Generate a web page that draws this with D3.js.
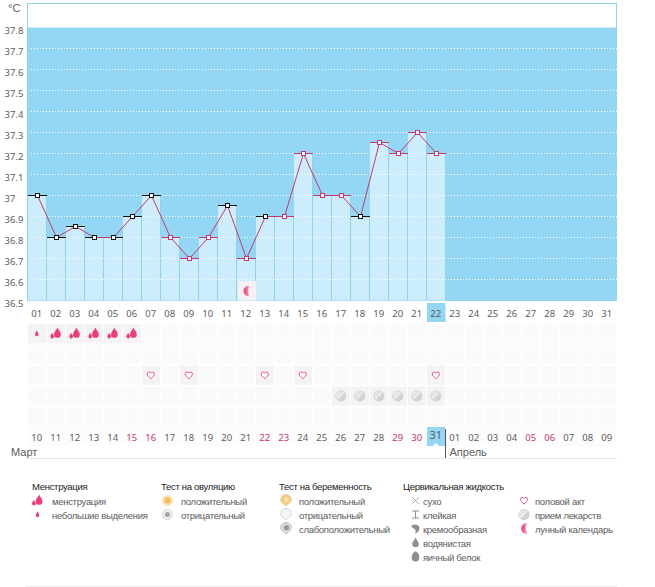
<!DOCTYPE html>
<html><head><meta charset="utf-8">
<script src="https://cdn.jsdelivr.net/npm/d3@7"></script>
<style>
html,body{margin:0;padding:0;background:#fff}
svg{display:block}
text{font-family:"Liberation Sans",Arial,sans-serif;font-size:9.5px;letter-spacing:-.3px;fill:#5c5c5c}
.ax text{font-family:"Noto Sans",sans-serif;font-size:9.5px;letter-spacing:0}
</style></head><body>
<svg id="c" width="655" height="587"></svg>
<script>
const topDays=["01","02","03","04","05","06","07","08","09","10","11","12","13","14","15","16","17","18","19","20","21","22","23","24","25","26","27","28","29","30","31"];
const bottomDays=["10","11","12","13","14","15","16","17","18","19","20","21","22","23","24","25","26","27","28","29","30","31","01","02","03","04","05","06","07","08","09"];
const bottomRed=[5,6,12,13,19,20,26,27];
const temps=[37,36.8,36.85,36.8,36.8,36.9,37,36.8,36.7,36.8,36.95,36.7,36.9,36.9,37.2,37,37,36.9,37.25,37.2,37.3,37.2];
const blackMarkers=["01","02","03","04","05","06","07","11","13","18"];
const yTicks=[37.8,37.7,37.6,37.5,37.4,37.3,37.2,37.1,37,36.9,36.8,36.7,36.6,36.5];
const gridTicks=[37.7,37.6,37.5,37.4,37.3,37.2,37.1,37,36.9,36.8,36.7,36.6];
const bleedSmall=["01"];
const bleedBig=["02","03","04","05","06"];
const hearts=["07","09","13","15","22"];
const pills=["17","18","19","20","21","22"];
const moonDays=["12"];
const todayDay="22";
const legendTitles=[["Менструация",32],["Тест на овуляцию",161],["Тест на беременность",279],["Цервикальная жидкость",403]];
const legendItems=[
 ["bleedBig","менструация",37.5,52,0],["bleedSmall","небольшие выделения",37.5,52,1],
 ["ovuPos","положительный",167.5,181,0],["ovuNeg","отрицательный",167.5,181,1],
 ["pregPos","положительный",286,299,0],["pregNeg","отрицательный",286,299,1],["pregWeak","слабоположительный",286,299,2],
 ["dry","сухо",415.5,423,0],["sticky","клейкая",415.5,423,1],["creamy","кремообразная",415.5,423,2],["watery","водянистая",415.5,423,3],["egg","яичный белок",415.5,423,4],
 ["heart","половой акт",524,535,0],["pill","прием лекарств",524,535,1],["moon","лунный календарь",524,535,2]
];

const blue="#93d7f4",light="#cdedfd",lineBlue="#8fd2ec",pink="#c9366f",hot="#ef3d78";
const svg=d3.select("#c");
const defs=svg.append("defs");
const mg=defs.append("linearGradient").attr("id","moonG");
mg.append("stop").attr("offset","0").attr("stop-color","#ee3a76");
mg.append("stop").attr("offset","0.55").attr("stop-color","#f36f9c");
mg.append("stop").attr("offset","1").attr("stop-color","#fde3ec");
const pg=defs.append("linearGradient").attr("id","pillG").attr("x1",0).attr("y1",0).attr("x2",1).attr("y2",1);
pg.append("stop").attr("offset","0").attr("stop-color","#f5f5f5");
pg.append("stop").attr("offset","1").attr("stop-color","#c4c4c4");

const x=d3.scaleBand().domain(topDays).range([27.8,616.8]).padding(0);
const xb=d3.scaleBand().domain(bottomDays.map((d,i)=>i)).range([27.8,616.8]);
const y=d3.scaleLinear().domain([36.5,37.8]).range([300.5,27.5]);
const rowY=d3.scaleBand().domain([0,1,2,3,4]).range([324,428]);
const legY=d3.scaleLinear().domain([0,4]).range([501,557]);
const snapY=v=>Math.floor(y(v))+.5;
const midX=d=>Math.floor(x(d)+x.bandwidth()/2)+.5;

// frame and blue plot
svg.append("rect").attr("x",27.5).attr("y",3.5).attr("width",589).attr("height",297).attr("fill","#fff").attr("stroke",lineBlue);
svg.append("rect").attr("x",28).attr("y",y(37.8)).attr("width",589).attr("height",y(36.5)-y(37.8)).attr("fill",blue);

// bars
const data=temps.map((t,i)=>({day:topDays[i],t,black:blackMarkers.includes(topDays[i])}));
const bx=d=>Math.round(x(d));
svg.selectAll(".bar").data(data).join("rect").attr("x",d=>bx(d.day)).attr("width",18)
 .attr("y",d=>snapY(d.t)).attr("height",d=>y(36.5)-snapY(d.t)).attr("fill",light);
svg.selectAll(".sep").data(data).join("rect").attr("x",d=>bx(d.day)+18).attr("width",1)
 .attr("y",d=>snapY(d.t)).attr("height",d=>y(36.5)-snapY(d.t)).attr("fill",lineBlue);

// grid dots
svg.selectAll(".g").data(gridTicks).join("line").attr("x1",31).attr("x2",617)
 .attr("y1",d=>snapY(d)).attr("y2",d=>snapY(d))
 .attr("stroke","#fff").attr("stroke-dasharray","1 2");

// icon glyphs (local coordinates around 0,0)
const drop="M0,-4.2C.6,-2.4 2.6,-1 2.6,1.2A2.6,2.6 0 1 1 -2.6,1.2C-2.6,-1 -.6,-2.4 0,-4.2Z";
const pregShape="M-5.4,-1A5.4,5 0 1 1 5.4,-1C5.4,2 2,3.5 0,5.5C-2,3.5 -5.4,2 -5.4,-1Z";
const glyphs={
 bleedSmall:g=>g.append("path").attr("d","M0,-3.2C.4,-1.6 1.7,-.6 1.7,1A1.7,1.7 0 1 1 -1.7,1C-1.7,-.6 -.4,-1.6 0,-3.2Z").attr("fill",hot),
 bleedBig:g=>{g.append("path").attr("d",drop).attr("transform","translate(1.6,-.6) scale(1.3)").attr("fill",hot);
   g.append("path").attr("d",drop).attr("transform","translate(-3.6,2.2) scale(.72)").attr("fill",hot);},
 heart:g=>g.append("path").attr("d","M0,3.6C-2,1.8 -3.6,.4 -3.6,-1.2A1.9,1.9 0 0 1 0,-2A1.9,1.9 0 0 1 3.6,-1.2C3.6,.4 2,1.8 0,3.6Z").attr("fill","#fff").attr("stroke",hot).attr("stroke-width",.9),
 pill:g=>{g.append("circle").attr("r",5.2).attr("fill","url(#pillG)").attr("stroke","#c9c9c9").attr("stroke-width",.6);
   g.append("line").attr("x1",-3).attr("y1",3).attr("x2",3).attr("y2",-3).attr("stroke","#fff").attr("stroke-width",1.3);
   g.append("line").attr("x1",-2.5).attr("y1",3.4).attr("x2",3.4).attr("y2",-2.5).attr("stroke","#a5a5a5").attr("stroke-width",.5);},
 moon:g=>g.append("path").attr("d","M2.8,-5A5.2,5.2 0 1 0 2.8,5A3.6,5.6 0 0 1 2.8,-5Z").attr("transform","translate(1,0)").attr("fill","url(#moonG)"),
 ovuPos:g=>{g.append("circle").attr("r",5.2).attr("fill","#fbe6bd").attr("stroke","#f0d8a8").attr("stroke-width",.6);g.append("circle").attr("r",3.2).attr("fill","#f6bd5e");},
 ovuNeg:g=>{g.append("circle").attr("r",5.2).attr("fill","#eeeeee").attr("stroke","#ccc").attr("stroke-width",.6);g.append("circle").attr("r",2.6).attr("fill","#a8a8a8");},
 pregPos:g=>{g.append("path").attr("d",pregShape).attr("fill","#f5c878").attr("stroke","#d8c8a8").attr("stroke-width",.6);g.append("circle").attr("r",2.4).attr("cx",.5).attr("cy",-.8).attr("fill","#fbe3b4");},
 pregNeg:g=>g.append("path").attr("d",pregShape).attr("fill","#f6f6f6").attr("stroke","#c4c4c4").attr("stroke-width",.7),
 pregWeak:g=>{g.append("path").attr("d",pregShape).attr("fill","#dcdcdc").attr("stroke","#aaa").attr("stroke-width",.7);g.append("circle").attr("r",2.6).attr("cx",.5).attr("cy",-.8).attr("fill","#999");},
 dry:g=>g.append("path").attr("d","M-3.7,-3.7L3.7,3.7M3.7,-3.7L-3.7,3.7").attr("stroke","#999").attr("stroke-width",.7).attr("fill","none"),
 sticky:g=>g.append("path").attr("d","M-3.5,-3.5H3.5M-3.5,3.5H3.5M0,-3.5V3.5").attr("stroke","#888").attr("stroke-width",.9).attr("fill","none"),
 creamy:g=>g.append("path").attr("d","M-4,-3C-1,-5 4,-4 4,-.5C4,2 2,4 -.5,5.5C.5,3 .5,1.5 -1,.5C-2.5,-.5 -4,-1 -4,-3Z").attr("fill","#8e8e8e"),
 watery:g=>g.append("path").attr("d","M0,-5C.8,-2.6 3.2,-1.2 3.2,1.6A3.2,3.2 0 1 1 -3.2,1.6C-3.2,-1.2 -.8,-2.6 0,-5Z").attr("fill","#8e8e8e"),
 egg:g=>g.append("path").attr("d","M0,-5.2C2,-4.4 3.8,-1.8 3.8,1A3.8,3.9 0 1 1 -3.8,1C-3.8,-1.8 -2,-4.4 0,-5.2Z").attr("fill","#8e8e8e")
};
function put(name,cx,cy){const g=svg.append("g").attr("transform",`translate(${cx},${cy})`);glyphs[name](g);}

// moon in chart
moonDays.forEach(d=>{svg.append("rect").attr("x",bx(d)+1).attr("y",281).attr("width",18).attr("height",19.5).attr("fill","#f4f2f2");
 put("moon",x(d)+x.bandwidth()/2,291);});

// temperature ticks, line, markers
svg.selectAll(".tick-seg").data(data).join("line").attr("x1",d=>bx(d.day)).attr("x2",d=>bx(d.day)+19)
 .attr("y1",d=>snapY(d.t)).attr("y2",d=>snapY(d.t)).attr("stroke",d=>d.black?"#111":pink);
svg.append("path").datum(data).attr("fill","none").attr("stroke",pink).attr("stroke-width",1)
 .attr("d",d3.line().x(d=>midX(d.day)).y(d=>snapY(d.t)));
svg.selectAll(".mk").data(data).join("rect").attr("x",d=>midX(d.day)-2).attr("y",d=>snapY(d.t)-2).attr("width",4).attr("height",4)
 .attr("fill","#fff").attr("stroke",d=>d.black?"#111":pink);

// y axis
const ya=svg.append("g").attr("class","ax").call(d3.axisLeft(y).tickValues(yTicks).tickSize(0).tickFormat(d=>d===37?"37":d3.format(".1f")(d)));
ya.select(".domain").remove();
ya.attr("font-size",null).attr("font-family",null);
ya.selectAll("text").attr("x",4.5).attr("text-anchor","start").attr("y",5.5).attr("dy",0);
svg.append("text").attr("x",8).attr("y",12).style("font-size","11px").style("letter-spacing","0").text("°C");

// today highlight
svg.append("rect").attr("x",bx(todayDay)).attr("y",303).attr("width",18.5).attr("height",19).attr("fill",blue);

// top day axis
const ta=svg.append("g").attr("class","ax").attr("transform","translate(-.5,317)").call(d3.axisBottom(x).tickSize(0));
ta.select(".domain").remove();ta.attr("font-size",null).attr("font-family",null);
ta.selectAll("text").attr("y",0).attr("dy",0);

// icon grid
const cells=d3.cross(d3.range(5),topDays);
svg.selectAll(".cell").data(cells).join("rect").attr("x",d=>bx(d[1])).attr("y",d=>rowY(d[0])).attr("width",18).attr("height",rowY.bandwidth()-1.5).attr("fill","#fafafa");
const active=(arr,row,name)=>arr.forEach(d=>{svg.append("rect").attr("x",bx(d)).attr("y",rowY(row)).attr("width",18).attr("height",rowY.bandwidth()-1.5).attr("fill","#f3f3f3");
  put(name,x(d)+x.bandwidth()/2-.5,rowY(row)+9.5);});
active(bleedSmall,0,"bleedSmall");active(bleedBig,0,"bleedBig");active(hearts,2,"heart");active(pills,3,"pill");

// bottom dates
svg.selectAll(".dcell").data(bottomDays.map((d,i)=>i)).join("rect").attr("x",i=>Math.round(xb(i))).attr("y",427).attr("width",18).attr("height",19).attr("fill",i=>i===21?blue:"#fcfcfc");
svg.append("path").attr("d",d3.line()([[xb(21)+6,446],[xb(21)+9,443],[xb(21)+12,446]])).attr("fill","#fff");
const ba=svg.append("g").attr("class","ax").attr("transform","translate(-.5,441)").call(d3.axisBottom(xb).tickSize(0).tickFormat(i=>bottomDays[i]));
ba.select(".domain").remove();ba.attr("font-size",null).attr("font-family",null);
ba.selectAll("text").attr("y",0).attr("dy",0).style("fill",i=>bottomRed.includes(i)?"#c9366f":null);
ba.selectAll(".tick").filter(i=>i===21).select("text").attr("y",-2).style("font-size","11px");

// month labels
svg.append("line").attr("x1",27).attr("x2",617).attr("y1",458.5).attr("y2",458.5).attr("stroke","#e6e6e6");
svg.append("line").attr("x1",Math.round(xb(22))-.5).attr("x2",Math.round(xb(22))-.5).attr("y1",429).attr("y2",458).attr("stroke","#555");
svg.append("text").attr("x",11).attr("y",456).style("font-size","11px").style("letter-spacing","0").text("Март");
svg.append("text").attr("x",449.5).attr("y",456).style("font-size","11px").style("letter-spacing","0").text("Апрель");

// legend
svg.selectAll(".lt").data(legendTitles).join("text").attr("x",d=>d[1]).attr("y",490).style("fill","#222").text(d=>d[0]);
legendItems.forEach(d=>{put(d[0],d[2],legY(d[4])-.5);
 svg.append("text").attr("x",d[3]).attr("y",legY(d[4])+3.5).text(d[1]);});
svg.append("line").attr("x1",26).attr("x2",617).attr("y1",586.5).attr("y2",586.5).attr("stroke","#eee");
</script>
</body></html>
